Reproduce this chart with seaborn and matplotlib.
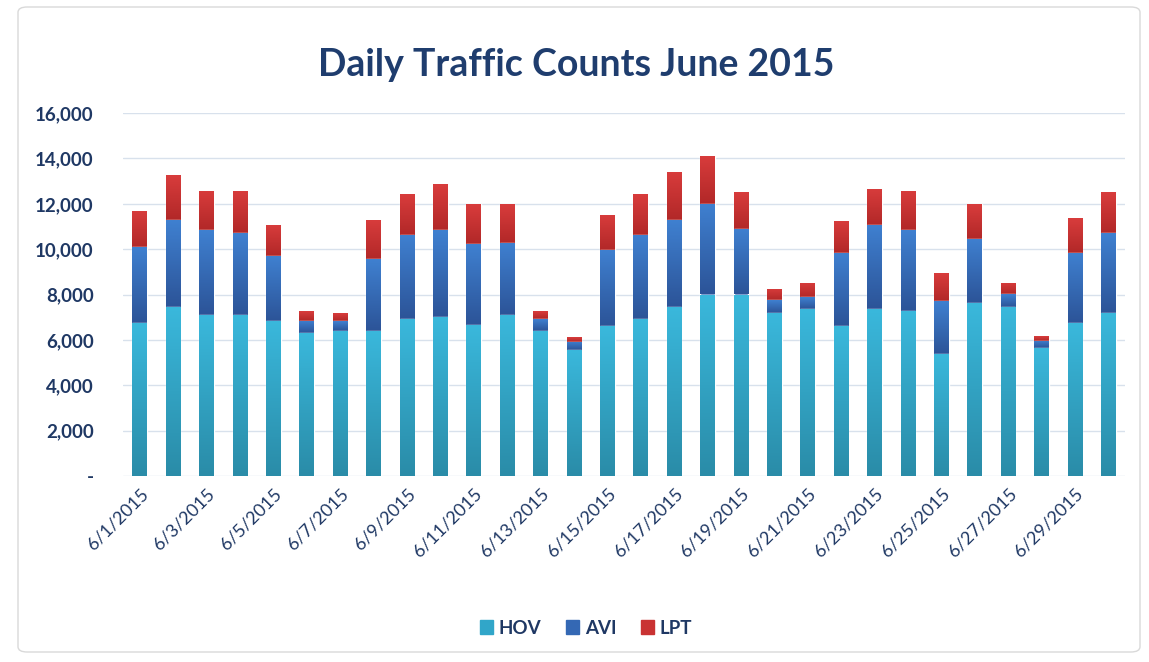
import numpy as np
import pandas as pd
import matplotlib
matplotlib.use("Agg")
import matplotlib.pyplot as plt
import seaborn as sns
from matplotlib.patches import Patch, FancyBboxPatch
from matplotlib.colors import LinearSegmentedColormap
from matplotlib.ticker import FuncFormatter

# daily counts, June 2015
days = [f"6/{d}/2015" for d in range(1, 31)]
hov = [6730, 7470, 7100, 7100, 6850, 6310, 6410, 6410, 6930, 7030,
       6660, 7100, 6410, 5560, 6590, 6930, 7470, 8000, 8000, 7190,
       7370, 6590, 7370, 7260, 5380, 7630, 7470, 5640, 6730, 7190]
avi = [3360, 3800, 3730, 3610, 2830, 530, 430, 3170, 3710, 3800,
       3550, 3190, 520, 360, 3360, 3710, 3800, 3980, 2900, 550,
       510, 3240, 3710, 3570, 2330, 2830, 530, 330, 3100, 3520]
lpt = [1600, 1980, 1740, 1860, 1400, 430, 350, 1690, 1770, 2020,
       1760, 1680, 350, 200, 1570, 1770, 2140, 2140, 1600, 510,
       620, 1430, 1590, 1740, 1230, 1510, 500, 220, 1520, 1790]

df = pd.DataFrame({"day": days, "HOV": hov, "AVI": avi, "LPT": lpt})
df["hov_avi"] = df["HOV"] + df["AVI"]
df["total"] = df["hov_avi"] + df["LPT"]

navy = "#1F3864"
c_hov, c_avi, c_lpt = "#31A6C9", "#3468B4", "#C93232"
# (top, bottom) shades for the gradient look
grad = {"lpt": ("#D83C3C", "#B22828"), "avi": ("#3F80D0", "#2C5498"), "hov": ("#3AB8DC", "#2A8CA8")}

sns.set_style("white")
plt.rcParams["font.family"] = ["Lato", "DejaVu Sans"]

fig = plt.figure(figsize=(11.49, 6.62), dpi=100)
ax = fig.add_axes([123 / 1149, 1 - 476 / 662, 1002 / 1149, 363 / 662])

# stacked bars: overlay cumulative totals, then trim each to its own segment
sns.barplot(data=df, x="day", y="total", color=c_lpt, width=0.44, saturation=1, ax=ax, zorder=2)
sns.barplot(data=df, x="day", y="hov_avi", color=c_avi, width=0.44, saturation=1, ax=ax, zorder=3)
sns.barplot(data=df, x="day", y="HOV", color=c_hov, width=0.44, saturation=1, ax=ax, zorder=4)

red_bars, blue_bars, cyan_bars = ax.containers[0], ax.containers[1], ax.containers[2]
for i, (p_r, p_b) in enumerate(zip(red_bars, blue_bars)):
    p_r.set_y(df["hov_avi"][i]); p_r.set_height(df["LPT"][i])
    p_b.set_y(df["HOV"][i]); p_b.set_height(df["AVI"][i])


def shade(bars, top, bottom):
    cmap = LinearSegmentedColormap.from_list("g", [bottom, top])
    for p in bars:
        x0, y0, w, h = p.get_x(), p.get_y(), p.get_width(), p.get_height()
        im = ax.imshow(np.linspace(0, 1, 64).reshape(-1, 1), cmap=cmap, origin="lower",
                       extent=[x0, x0 + w, y0, y0 + h], aspect="auto", zorder=p.get_zorder() + 0.5)
        im.set_clip_path(p)


shade(red_bars, *grad["lpt"])
shade(blue_bars, *grad["avi"])
shade(cyan_bars, *grad["hov"])

ax.set_xlim(-0.5, 29.5)
ax.set_ylim(0, 16000)
ax.set_yticks(range(0, 16001, 2000))
ax.yaxis.set_major_formatter(FuncFormatter(lambda v, p: "-" if v == 0 else f"{int(v):,}"))
ax.yaxis.grid(True, color="#D8E1EC", lw=1, zorder=0)
ax.set_axisbelow(True)
for s in ax.spines.values():
    s.set_visible(False)
ax.set_xlabel("")
ax.set_ylabel("")

ax.set_xticks(range(0, 30, 2))
ax.set_xticklabels(days[::2], rotation=45, ha="right", rotation_mode="anchor",
                   fontsize=13, color=navy)
ax.tick_params(axis="x", length=0, pad=7)
ax.tick_params(axis="y", length=0, pad=21, labelsize=13.5, labelcolor=navy)
for t in ax.get_yticklabels():
    t.set_fontweight("bold")

fig.text(576 / 1149, 1 - 65 / 662, "Daily Traffic Counts June 2015", ha="center", va="center",
         fontsize=27, fontweight="bold", color="#1F3D6E")

handles = [Patch(color=c_hov, label="HOV"), Patch(color=c_avi, label="AVI"), Patch(color=c_lpt, label="LPT")]
leg = fig.legend(handles=handles, loc="center", bbox_to_anchor=(586 / 1149, 1 - 628 / 662), ncol=3,
                 frameon=False, handlelength=0.7, handleheight=0.7, handletextpad=0.3, columnspacing=1.3,
                 prop={"size": 13.5, "weight": "bold"})
for t in leg.get_texts():
    t.set_color(navy)

fig.patches.append(FancyBboxPatch((18 / 1149, 10 / 662), 1122 / 1149, 645 / 662,
                                  boxstyle="round,pad=0,rounding_size=0.008", transform=fig.transFigure,
                                  fill=False, ec="#D9D9D9", lw=1))

fig.savefig("out.png", dpi=100)
